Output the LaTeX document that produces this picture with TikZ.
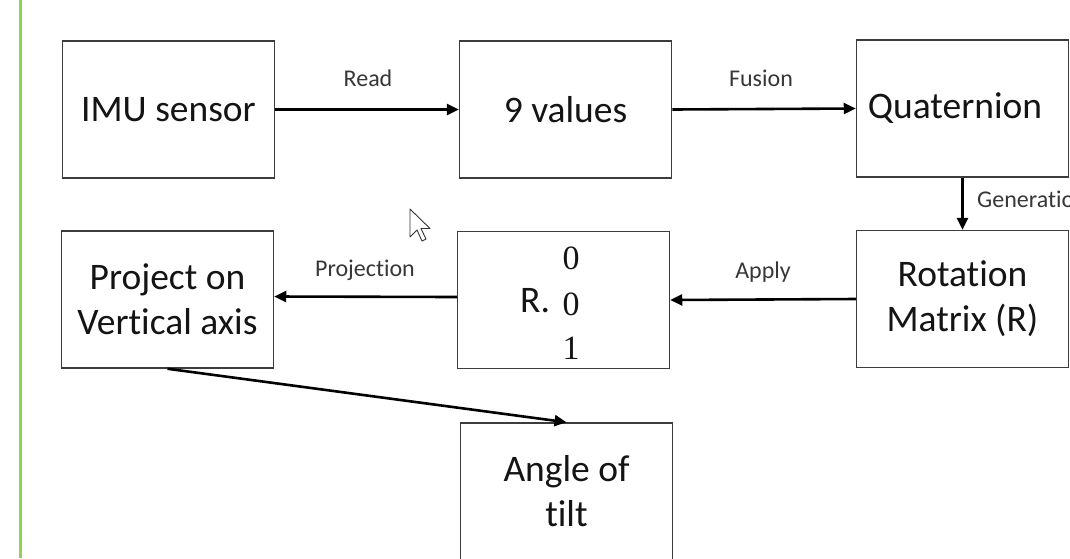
\documentclass[tikz,border=0pt]{standalone}
\usepackage{fontspec}
\setmainfont{Carlito}[Ligatures=NoCommon]
\newfontfamily\numfont{Liberation Serif}
\usetikzlibrary{arrows.meta}
\definecolor{sidegreen}{RGB}{146,208,80}
\definecolor{boxline}{RGB}{60,60,60}
\definecolor{txt}{RGB}{20,20,20}
\begin{document}
\begin{tikzpicture}[x=1pt,y=-1pt,
  box/.style={draw=boxline, line width=1.5pt, minimum width=212pt, minimum height=137pt,
    align=center, inner sep=0pt, text=txt, font=\fontsize{37.5}{45}\selectfont},
  lbl/.style={inner sep=0pt, text=txt!85, font=\fontsize{24}{28}\selectfont},
  conn/.style={line width=2.6pt, -{Triangle[length=12pt,width=11pt]}},
  bignum/.style={inner sep=0pt, text=txt, font=\numfont\fontsize{34}{40}\selectfont}]
\useasboundingbox (0,0) rectangle (1070,558);
\clip (0,0) rectangle (1070,558);
\fill[white] (0,0) rectangle (1070,558);
\draw[line width=3pt, sidegreen] (20,0) -- (20,558);
% boxes
\node[box] (imu)   at (168.5,109.5) {IMU sensor};
\node[box] (vals)  at (565.5,109.5) {9 values};
\node[box] (quat)  at (962.5,108.5) {};
\node[inner sep=0pt, text=txt, font=\fontsize{37.5}{45}\selectfont] (quattxt) at (955,108.5) {Quaternion};
\node[box] (rot)   at (962.5,299) {Rotation\\Matrix (R)};
\node[box] (rvec)  at (563.5,300) {};
\node[box] (proj)  at (167.5,299.5) {Project on\\Vertical axis};
\node[box] (angle) at (566.5,491.5) {Angle of\\tilt};
% content of R box
\node[inner sep=0pt, text=txt, font=\fontsize{37.5}{45}\selectfont, anchor=base] (rdot) at (535,312) {R.};
\node[bignum, anchor=base] (v1) at (571,269) {0};
\node[bignum, anchor=base] (v2) at (571,315) {0};
\node[bignum, anchor=base] (v3) at (571,359) {1};
% connectors
\draw[conn] (imu.east) -- (vals.west);
\draw[conn] (vals.east) -- (quat.west);
\draw[conn] (quat.south) -- (rot.north);
\draw[conn] (rot.west) -- (rvec.east);
\draw[conn] ([yshift=3pt]rvec.west) -- ([yshift=3pt]proj.east);
\draw[conn] (proj.south) -- (angle.north);
% labels
\node[lbl, anchor=base] (lread) at (368,86) {Read};
\node[lbl, anchor=base] (lfus) at (761,86) {Fusion};
\node[lbl, anchor=base west] (lgen) at (977,207) {Generation};
\node[lbl, anchor=base] (lapp) at (763,278) {Apply};
\node[lbl, anchor=base] (lproj) at (365,276) {Projection};
% mouse cursor
\filldraw[fill=white, draw=black!80, line width=0.9pt, line join=round]
  (410,209) -- (410,237) -- (417,230) -- (422,241) -- (426,239) -- (421,228.5) -- (430,228.5) -- cycle;
\end{tikzpicture}
\end{document}
